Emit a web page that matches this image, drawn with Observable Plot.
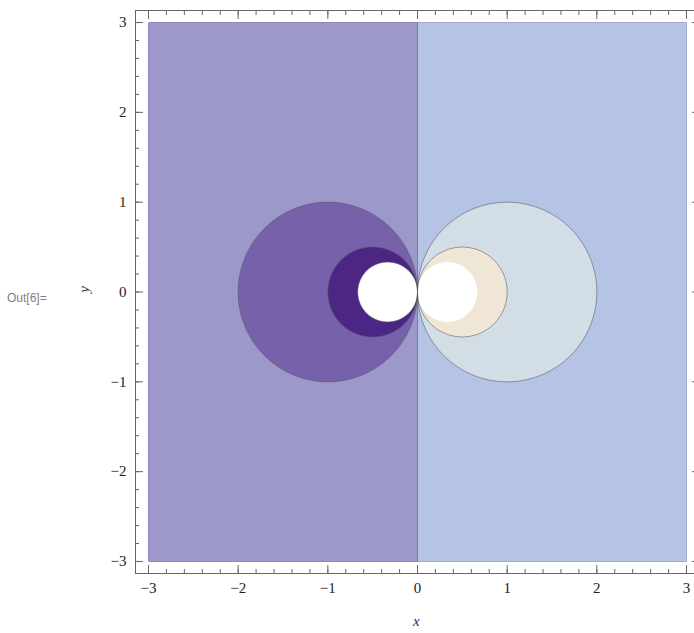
<!DOCTYPE html>
<html><head><meta charset="utf-8">
<script src="https://cdn.jsdelivr.net/npm/d3@7"></script>
<script src="https://cdn.jsdelivr.net/npm/@observablehq/plot@0.6"></script>
<style>
body{margin:0;background:#fff;}
#wrap{position:relative;width:694px;height:633px;overflow:hidden;}
.lbl{position:absolute;font-family:"Liberation Serif",serif;font-style:italic;font-size:15px;color:#333;line-height:1;}
.out{position:absolute;font-family:"Liberation Sans",Arial,sans-serif;font-size:12px;color:#808080;line-height:1;}
</style></head><body>
<div id="wrap"></div>
<script>
// contour levels of Re(1/z) = x/(x^2+y^2) and the band colours (band i = value in [levels[i], levels[i+1]) )
const levels = [-1.5, -1, -0.5, 0, 0.5, 1, 1.5];
const bandColors = ["#4c2684", "#7661aa", "#9c98ca", "#b5c4e4", "#d3dde5", "#efe6d6", "#ffffff"];
const plotRange = [-3, 3];
const majorTicks = [-3, -2, -1, 0, 1, 2, 3];
const minorTicks = [-3, -2.8, -2.6, -2.4, -2.2, -2, -1.8, -1.6, -1.4, -1.2, -1, -0.8, -0.6, -0.4, -0.2, 0,
  0.2, 0.4, 0.6, 0.8, 1, 1.2, 1.4, 1.6, 1.8, 2, 2.2, 2.4, 2.6, 2.8, 3];
const field = (x, y) => (x === 0 && y === 0) ? 0 : x / (x * x + y * y);
const fmt = d => d < 0 ? "\u2212" + (-d) : String(d);

const tickStyle = {fill: "none", stroke: "#666", strokeWidth: 1, label: null};
const chart = Plot.plot({
  width: 694,
  height: 633,
  marginLeft: 135,
  marginRight: -5,
  marginTop: 10,
  marginBottom: 60,
  style: {fontFamily: "Liberation Serif, serif", fontSize: "15px", color: "#222", background: "#fff"},
  x: {domain: [-3.145, 3.145]},
  y: {domain: [-3.134, 3.134]},
  color: {type: "ordinal", domain: levels, range: bandColors},
  marks: [
    Plot.contour({fill: field, x1: plotRange[0], x2: plotRange[1], y1: plotRange[0], y2: plotRange[1],
      thresholds: levels, pixelSize: 1}),
    Plot.contour({value: field, x1: -3.5, x2: 3.5, y1: -3.5, y2: 3.5, thresholds: levels.slice(0, 6),
      pixelSize: 1, fill: "none", stroke: "#555560", strokeOpacity: 0.55, strokeWidth: 1}),
    Plot.frame({stroke: "#666"}),
    Plot.axisX(minorTicks, {anchor: "bottom", tickSize: -4, ...tickStyle}),
    Plot.axisX(majorTicks, {anchor: "bottom", tickSize: -8, ...tickStyle}),
    Plot.axisX(minorTicks, {anchor: "top", tickSize: -4, ...tickStyle}),
    Plot.axisX(majorTicks, {anchor: "top", tickSize: -8, ...tickStyle}),
    Plot.axisY(minorTicks, {anchor: "left", tickSize: -4, ...tickStyle}),
    Plot.axisY(majorTicks, {anchor: "left", tickSize: -8, ...tickStyle}),
    Plot.axisY(minorTicks, {anchor: "right", tickSize: -4, ...tickStyle}),
    Plot.axisY(majorTicks, {anchor: "right", tickSize: -8, ...tickStyle}),
    Plot.axisX(majorTicks, {anchor: "bottom", tickSize: 0, tickPadding: 9, fill: "#222", label: null, tickFormat: fmt}),
    Plot.axisY(majorTicks, {anchor: "left", tickSize: 0, tickPadding: 9, fill: "#222", label: null, tickFormat: fmt})
  ]
});

// clip the contour lines to the plotted square
const sx = chart.scale("x"), sy = chart.scale("y");
const ns = "http://www.w3.org/2000/svg";
const defs = document.createElementNS(ns, "defs");
const cp = document.createElementNS(ns, "clipPath");
cp.setAttribute("id", "sq");
const r = document.createElementNS(ns, "rect");
r.setAttribute("x", sx.apply(plotRange[0]));
r.setAttribute("y", sy.apply(plotRange[1]));
r.setAttribute("width", sx.apply(plotRange[1]) - sx.apply(plotRange[0]));
r.setAttribute("height", sy.apply(plotRange[0]) - sy.apply(plotRange[1]));
cp.appendChild(r); defs.appendChild(cp); chart.insertBefore(defs, chart.firstChild);
const contours = chart.querySelectorAll('g[aria-label="contour"]');
if (contours.length > 1) contours[1].setAttribute("clip-path", "url(#sq)");

const wrap = document.getElementById("wrap");
wrap.appendChild(chart);

function addLabel(text, cls, left, top, rot) {
  const d = document.createElement("div");
  d.className = cls; d.textContent = text;
  d.style.left = left + "px"; d.style.top = top + "px";
  if (rot) d.style.transform = "rotate(" + rot + "deg)";
  wrap.appendChild(d);
}
addLabel("x", "lbl", 413, 614);
addLabel("y", "lbl", 81, 282, -90);
addLabel("Out[6]=", "out", 7, 292);
</script>
</body></html>
